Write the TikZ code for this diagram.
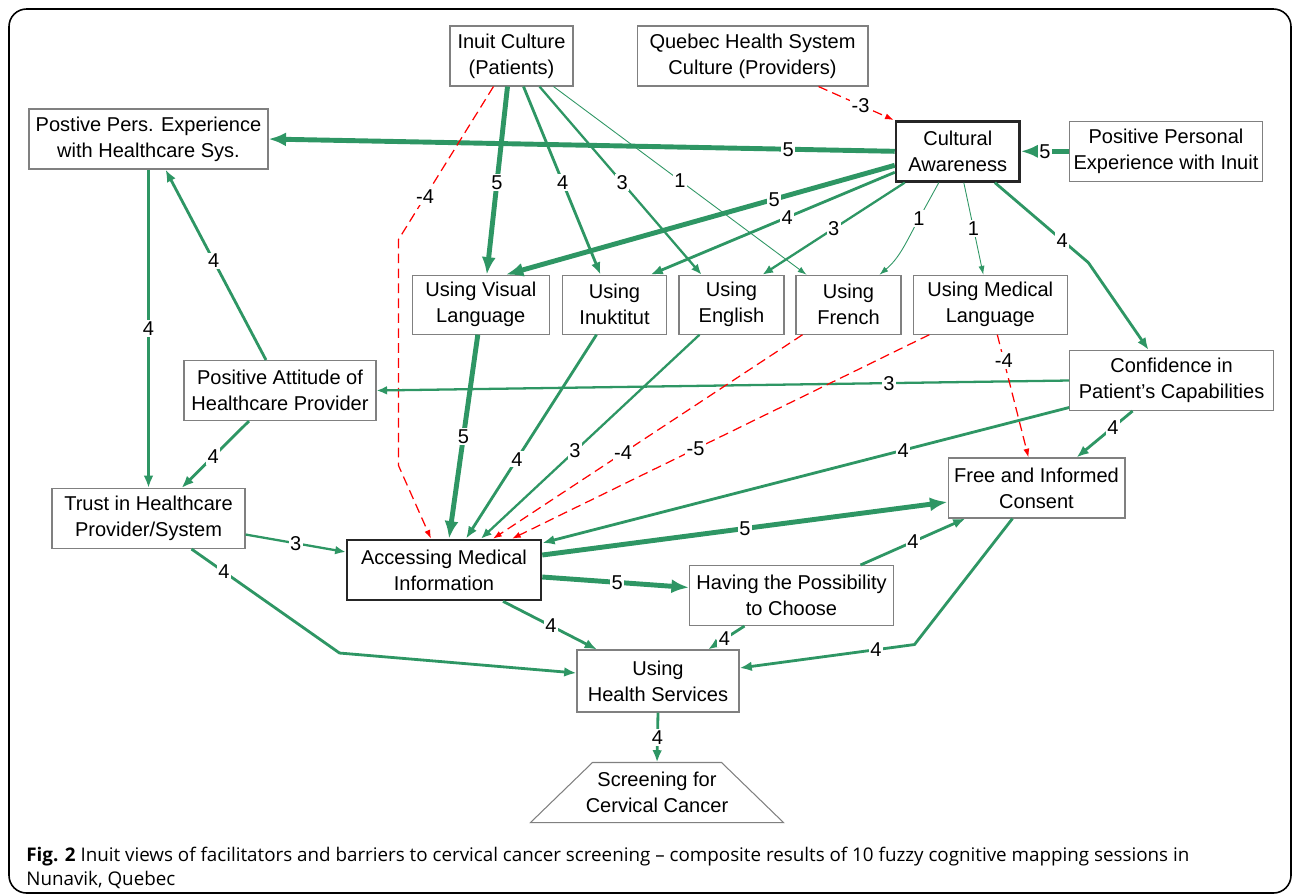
\documentclass[tikz,border=0pt]{standalone}
\usepackage{fontspec}
\setmainfont{Liberation Sans}
\newfontfamily\capfont{Open Sans}
\usepackage{tikz}
\usetikzlibrary{arrows.meta,positioning,calc,shapes.geometric}
\definecolor{fcmgreen}{RGB}{46,150,100}
\newcommand{\nodefont}{\fontsize{11.4}{14.8}\selectfont}

\begin{document}
\begin{tikzpicture}[
    x=0.02cm, y=-0.02cm,
    box/.style={rectangle, draw=black!50, line width=0.6pt, minimum height=1.2cm, align=center, inner sep=1pt, font=\nodefont},
    keybox/.style={box, draw=black!85, line width=1.5pt},
    lbl/.style={fill=white, inner sep=0.8pt, font=\nodefont},
    w5/.style={draw=fcmgreen, line width=2.8pt, -{Latex[length=10pt,width=8pt]}},
    w4/.style={draw=fcmgreen, line width=1.6pt, -{Latex[length=7pt,width=5.5pt]}},
    w3/.style={draw=fcmgreen, line width=1.3pt, -{Latex[length=6pt,width=5pt]}},
    w1/.style={draw=fcmgreen, line width=0.5pt, -{Latex[length=5pt,width=3.5pt]}},
    neg/.style={draw=red, line width=0.7pt, dash pattern=on 5.5pt off 3pt, -{Latex[length=5pt,width=3.5pt]}}
]
\useasboundingbox (0,0) rectangle (1292,894);
\draw[line width=0.9pt, rounded corners=10pt] (9,9) rectangle (1291,893);

% concepts
\node[box, minimum width=2.46cm] (inuit) at (511.5,56) {Inuit Culture\\(Patients)};
\node[box, minimum width=4.62cm] (quebec) at (752.5,56) {Quebec Health System\\Culture (Providers)};
\node[box, minimum width=4.78cm] (ppehs) at (148.5,139) {Postive Pers. Experience\\with Healthcare Sys.};
\node[keybox, minimum width=2.47cm] (ca) at (957.8,151.3) {Cultural\\Awareness};
\node[box, minimum width=3.86cm] (ppei) at (1166,151.3) {Positive Personal\\Experience with Inuit};
\node[box, minimum width=2.75cm, minimum height=1.18cm] (visual) at (480.8,304.7) {Using Visual\\Language};
\node[box, minimum width=2.08cm, minimum height=1.18cm] (inuk) at (614.5,304.7) {Using\\Inuktitut};
\node[box, minimum width=2.1cm, minimum height=1.18cm] (english) at (731.5,304.7) {Using\\English};
\node[box, minimum width=2.1cm, minimum height=1.18cm] (french) at (848.5,304.7) {Using\\French};
\node[box, minimum width=3.07cm, minimum height=1.18cm] (medical) at (990.3,304.7) {Using Medical\\Language};
\node[box, minimum width=4.08cm] (conf) at (1171.6,380.5) {Confidence in\\Patient's Capabilities};
\node[box, minimum width=3.84cm] (attitude) at (280,390.5) {Positive Attitude of\\Healthcare Provider};
\node[box, minimum width=3.54cm] (consent) at (1036.5,488) {Free and Informed\\Consent};
\node[box, minimum width=3.86cm] (trust) at (148.5,518.5) {Trust in Healthcare\\Provider/System};
\node[keybox, minimum width=3.88cm] (access) at (444,570) {Accessing Medical\\Information};
\node[box, minimum width=4.08cm] (choose) at (791.5,595.5) {Having the Possibility\\to Choose};
\node[box, minimum width=3.24cm, minimum height=1.24cm] (services) at (658,681) {Using\\Health Services};
\node[box, draw=none, minimum width=5.04cm, minimum height=1.18cm] (screen) at (657,792.5) {Screening for\\Cervical Cancer};
\draw[black!50, line width=0.6pt] ($(screen.north west)+(62,0)$) -- ($(screen.north east)+(-62,0)$)
    -- (screen.south east) -- (screen.south west) -- cycle;

% caption
\node[anchor=north west, align=left, inner sep=0pt, font=\capfont\fontsize{10.7}{13.8}\selectfont] (caption) at (26,847)
    {\textbf{Fig. 2} Inuit views of facilitators and barriers to cervical cancer screening – composite results of 10 fuzzy cognitive mapping sessions in\\Nunavik, Quebec};

% links from the top
\draw[neg] ($(quebec.south)+(66,0)$) -- node[lbl, pos=0.56] {-3} ($(ca.north west)+(-1,0)$);
\draw[w5] (ppei.west) -- node[lbl] {5} (ca.east);
\draw[w5] (ca.west) -- node[lbl, pos=0.17] {5} (ppehs.east);
\draw[w5] ($(inuit.south)+(-4,0)$) -- node[lbl, pos=0.51] {5} ($(visual.north)+(6,0)$);
\draw[w4] ($(inuit.south)+(12,0)$) -- node[lbl, pos=0.51] {4} ($(inuk.north)+(-14,0)$);
\draw[w3] ($(inuit.south)+(28,0)$) -- node[lbl, pos=0.51] {3} ($(english.north)+(-30,0)$);
\draw[w1] ($(inuit.south)+(42,0)$) -- node[lbl, pos=0.5] {1} ($(french.north)+(-42,0)$);
\draw[neg] ($(inuit.south)+(-18,0)$) -- node[lbl, pos=0.72] {-4} ++(-95,153) -- ++(0,226) -- ($(access.north)+(-13,0)$);
\draw[w5] ($(ca.west)+(0,14)$) -- node[lbl, pos=0.31] {5} ($(visual.north)+(25,0)$);
\draw[w4] ($(ca.west)+(0,21)$) -- node[lbl, pos=0.44] {4} ($(inuk.north)+(36,0)$);
\draw[w3] ($(ca.south west)+(10,0)$) -- node[lbl, pos=0.5] {3} ($(english.north)+(31,0)$);
\draw[w1] ($(ca.south)+(-19,0)$) -- node[lbl, pos=0.9] {1} ++(-22,40) to[out=-118, in=40] ($(french.north)+(31,0)$);
\draw[w1] ($(ca.south)+(6,0)$) -- node[lbl, pos=0.5] {1} ($(medical.north)+(-7,0)$);
\draw[w4] ($(ca.south east)+(-26,0)$) -- node[lbl, pos=0.72] {4} ++(93.5,80) -- ($(conf.north)+(-23,0)$);

% left side
\draw[w3] (conf.west) -- node[lbl, pos=0.26] {3} (attitude.east);
\draw[w4] ($(attitude.north)+(-14,0)$) -- node[lbl, pos=0.52] {4} ($(ppehs.south)+(17,0)$);
\draw[w4] (ppehs.south) -- node[lbl, pos=0.5] {4} (trust.north);
\draw[w4] ($(attitude.south)+(-31,0)$) -- node[lbl, pos=0.53] {4} ($(trust.north)+(33,0)$);
\draw[w3] ($(trust.east)+(0,16)$) -- node[lbl, pos=0.5] {3} ($(access.west)+(0,-18)$);
\draw[w4] ($(trust.south)+(43,0)$) -- node[lbl, pos=0.22] {4} ++(148,104) -- ($(services.west)+(0,-8)$);

% into accessing medical information
\draw[w5] ($(visual.south)+(-3,0)$) -- node[lbl, pos=0.5] {5} ($(access.north)+(5,0)$);
\draw[w4] ($(inuk.south)+(-18,0)$) -- node[lbl, pos=0.61] {4} ($(access.north)+(22,0)$);
\draw[w3] ($(english.south)+(-32,0)$) -- node[lbl, pos=0.57] {3} ($(access.north)+(37,0)$);
\draw[neg] ($(french.south)+(-46,0)$) -- node[lbl, pos=0.58] {-4} ($(access.north)+(49,0)$);
\draw[neg] ($(medical.south)+(-61,0)$) -- node[lbl, pos=0.56] {-5} ($(access.north)+(68,0)$);
\draw[neg] ($(medical.south)+(7,0)$) -- node[lbl, pos=0.21] {-4} ($(consent.north)+(-8,0)$);
\draw[w4] ($(conf.south)+(-39,0)$) -- node[lbl, pos=0.35] {4} ($(consent.north)+(40,0)$);
\draw[w4] ($(conf.west)+(0,27)$) -- node[lbl, pos=0.315] {4} ($(access.east)+(0,-27)$);

% out of accessing medical information
\draw[w5] ($(access.east)+(0,-15)$) -- node[lbl, pos=0.5] {5} ($(consent.west)+(0,14)$);
\draw[w5] ($(access.east)+(0,7)$) -- node[lbl, pos=0.51] {5} ($(choose.west)+(0,-8)$);
\draw[w4] ($(choose.north)+(69,0)$) -- node[lbl, pos=0.5] {4} ($(consent.south west)+(18,0)$);
\draw[w4] ($(access.south)+(59,0)$) -- node[lbl, pos=0.51] {4} ($(services.north)+(-61,0)$);
\draw[w4] ($(choose.south)+(-47,0)$) -- node[lbl, pos=0.55] {4} ($(services.north)+(50,0)$);
\draw[w4] ($(consent.south)+(-24,0)$) -- ++(-98,126) -- node[lbl, pos=0.22] {4} ($(services.east)+(0,-13)$);
\draw[w4] (services.south) -- node[lbl, pos=0.5] {4} (screen.north);
\end{tikzpicture}
\end{document}
